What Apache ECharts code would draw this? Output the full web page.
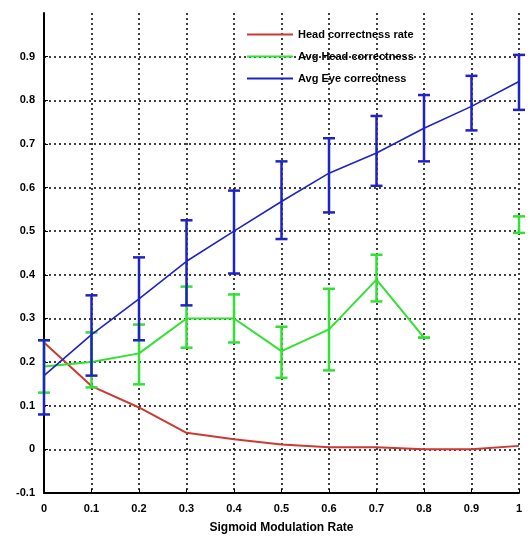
<!DOCTYPE html>
<html>
<head>
<meta charset="utf-8">
<script src="https://cdn.jsdelivr.net/npm/echarts@6/dist/echarts.min.js"></script>
<style>
  html, body { margin: 0; padding: 0; background: #fff; }
  #chart { width: 530px; height: 541px; }
</style>
</head>
<body>
<div id="chart"></div>
<script>
// Modulation rates on the x axis
const rates = [0, 0.1, 0.2, 0.3, 0.4, 0.5, 0.6, 0.7, 0.8, 0.9, 1.0];

// Head correctness rate (single curve)
const headRate = [0.245, 0.145, 0.096, 0.038, 0.023, 0.011, 0.005, 0.005, 0.0, 0.0, 0.008];

// Average head correctness with its spread (null = no sample)
const avgHead      = [0.19, 0.20, 0.22, 0.30, 0.30, 0.225, 0.275, 0.389, 0.256, null, 0.515];
const avgHeadLow   = [0.13, 0.142, 0.149, 0.233, 0.245, 0.164, 0.181, 0.339, 0.256, null, 0.496];
const avgHeadHigh  = [0.25, 0.268, 0.286, 0.373, 0.355, 0.281, 0.368, 0.446, 0.256, null, 0.534];

// Average eye correctness with its spread
const avgEye      = [0.169, 0.263, 0.345, 0.431, 0.50, 0.568, 0.633, 0.679, 0.736, 0.786, 0.843];
const avgEyeLow   = [0.08, 0.169, 0.25, 0.33, 0.403, 0.482, 0.543, 0.604, 0.66, 0.731, 0.778];
const avgEyeHigh  = [0.25, 0.353, 0.44, 0.525, 0.593, 0.66, 0.713, 0.764, 0.812, 0.856, 0.904];

const RED = '#cc3a33';
const GREEN = '#33e033';
const BLUE = '#1f23c4';

function pairs(ys) {
  return rates.map((x, i) => [x, ys[i] == null ? '-' : ys[i]]);
}
function barData(lo, hi) {
  const out = [];
  rates.forEach((x, i) => { if (lo[i] != null) out.push([x, lo[i], hi[i]]); });
  return out;
}
function errorBars(color, width) {
  return function (params, api) {
    const x = api.value(0);
    const lo = api.coord([x, api.value(1)]);
    const hi = api.coord([x, api.value(2)]);
    const cap = 6;
    const style = { stroke: color, lineWidth: width };
    return {
      type: 'group',
      children: [
        { type: 'line', shape: { x1: lo[0], y1: lo[1], x2: hi[0], y2: hi[1] }, style },
        { type: 'line', shape: { x1: lo[0] - cap, y1: lo[1], x2: lo[0] + cap, y2: lo[1] }, style },
        { type: 'line', shape: { x1: hi[0] - cap, y1: hi[1], x2: hi[0] + cap, y2: hi[1] }, style }
      ]
    };
  };
}

const font = 'Liberation Sans, Arial, sans-serif';
const gridLine = { show: true, showMinLine: false, showMaxLine: false,
  lineStyle: { color: '#000', width: 1.5, type: [2, 3] } };

const chart = echarts.init(document.getElementById('chart'), null, { renderer: 'canvas' });
chart.setOption({
  animation: false,
  backgroundColor: '#fff',
  grid: { left: 44, right: 11, top: 13, bottom: 48, containLabel: false },
  legend: {
    orient: 'vertical',
    left: 242, top: 24,
    itemWidth: 46, itemHeight: 2, itemGap: 11,
    icon: 'rect',
    textStyle: { fontFamily: font, fontSize: 11, fontWeight: 'bold', color: '#000', padding: [0, 0, 0, 0] },
    data: ['Head correctness rate', 'Avg Head correctness', 'Avg Eye correctness']
  },
  xAxis: {
    type: 'value', min: 0, max: 1, interval: 0.1,
    name: 'Sigmoid Modulation Rate', nameLocation: 'middle', nameGap: 29,
    nameTextStyle: { fontFamily: font, fontSize: 12, fontWeight: 'bold', color: '#000' },
    axisLine: { show: true, onZero: false, lineStyle: { color: '#000', width: 2 } },
    axisTick: { show: true, inside: true, length: 4, lineStyle: { color: '#000' } },
    axisLabel: { fontFamily: font, fontSize: 11, fontWeight: 'bold', color: '#000', margin: 10,
      formatter: v => (Math.abs(v) < 1e-9 ? '0' : Math.abs(v - 1) < 1e-9 ? '1' : v.toFixed(1)) },
    splitLine: { show: true, showMinLine: false, showMaxLine: true,
      lineStyle: { color: '#000', width: 1.5, type: [2, 3] } }
  },
  yAxis: {
    type: 'value', min: -0.1, max: 1.0, interval: 0.1,
    axisLine: { show: true, onZero: false, lineStyle: { color: '#000', width: 2 } },
    axisTick: { show: true, inside: true, length: 4, lineStyle: { color: '#000' } },
    axisLabel: { fontFamily: font, fontSize: 11, fontWeight: 'bold', color: '#000', margin: 9,
      showMaxLabel: false,
      formatter: v => (Math.abs(v) < 1e-9 ? '0' : v.toFixed(1)) },
    splitLine: gridLine
  },
  series: [
    { name: 'Head correctness rate', type: 'line', data: pairs(headRate),
      symbol: 'none', lineStyle: { color: RED, width: 2 }, itemStyle: { color: RED }, z: 3 },
    { name: 'Avg Head correctness', type: 'line', data: pairs(avgHead), connectNulls: false,
      symbol: 'none', lineStyle: { color: GREEN, width: 2 }, itemStyle: { color: GREEN }, z: 3 },
    { name: 'Avg Head correctness', type: 'custom', data: barData(avgHeadLow, avgHeadHigh),
      renderItem: errorBars(GREEN, 2.5), encode: { x: 0, y: [1, 2] }, z: 4 },
    { name: 'Avg Eye correctness', type: 'line', data: pairs(avgEye),
      symbol: 'none', lineStyle: { color: BLUE, width: 1.6 }, itemStyle: { color: BLUE }, z: 5 },
    { name: 'Avg Eye correctness', type: 'custom', data: barData(avgEyeLow, avgEyeHigh),
      renderItem: errorBars(BLUE, 2.5), encode: { x: 0, y: [1, 2] }, z: 6 }
  ]
});
</script>
</body>
</html>
